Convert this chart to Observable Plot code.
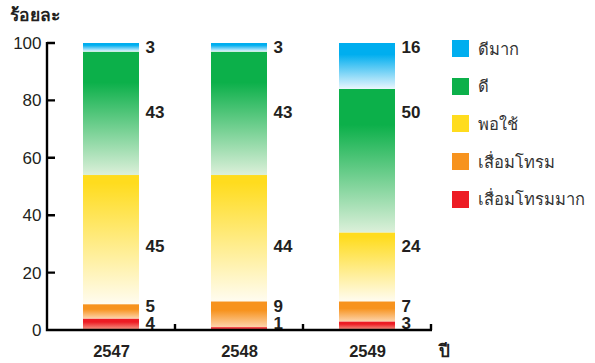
<!DOCTYPE html>
<html>
<head>
<meta charset="utf-8">
<script src="https://cdn.jsdelivr.net/npm/d3@7"></script>
<script src="https://cdn.jsdelivr.net/npm/@observablehq/plot@0.6"></script>
<style>
  html, body { margin: 0; padding: 0; background: #fff; }
  #wrap { position: relative; width: 595px; height: 363px; font-family: "Liberation Sans", Arial, sans-serif; color: #231f20; }
  #wrap svg { position: absolute; left: 0; top: 0; }
  .title { position: absolute; left: 10px; top: 1px; font-size: 17.5px; font-weight: bold; }
  .xname { position: absolute; left: 439px; top: 337px; font-size: 17px; font-weight: bold; }
  .legend { position: absolute; left: 452px; top: 40px; }
  .legend .row { display: flex; align-items: center; height: 17px; margin-bottom: 20.7px; font-size: 16.5px; color: #333; }
  .legend .sw { width: 17px; height: 17px; margin-right: 9px; flex: none; }
</style>
</head>
<body>
<div id="wrap"></div>
<script>
// ---- data ----
const years = ["2547", "2548", "2549"];
const categories = ["เสื่อมโทรมมาก", "เสื่อมโทรม", "พอใช้", "ดี", "ดีมาก"]; // bottom -> top
const values = {
  "เสื่อมโทรมมาก": [4, 1, 3],
  "เสื่อมโทรม":   [5, 9, 7],
  "พอใช้":        [45, 44, 24],
  "ดี":           [43, 43, 50],
  "ดีมาก":        [3, 3, 16]
};
const yTicks = [0, 20, 40, 60, 80, 100];
// y (in percent) where each category's value label sits beside its bar
const labelAt = [2.4, 8.3, 29.2, 75.8, 98.6];

// ---- styles ----
const topColor = ["#ed1c24", "#f7931e", "#ffdc1e", "#0cb04a", "#00aeef"];
const lightColor = ["#f7a08c", "#fdd4ac", "#fffcf0", "#dcf0da", "#e9f6fd"];
const solidStop = [0.3, 0.35, 0.06, 0.25, 0.25];

const rows = [];
categories.forEach((c, ci) => years.forEach((y, yi) =>
  rows.push({year: y, category: c, ci, value: values[c][yi], grad: `url(#grad${ci})`})));

const labelRows = rows.map(d => ({...d, at: labelAt[d.ci]}));

function axesMark(index, scales) {
  const {x, y} = scales;
  const g = d3.create("svg:g").attr("stroke", "#000").attr("fill", "none");
  const y0 = y(0), yTop = y(100);
  const bw = typeof x.bandwidth === "function" ? x.bandwidth() : (x.bandwidth || 0);
  const centers = years.map(v => x(v) + bw / 2); // band centres
  const step = centers[1] - centers[0];
  const bounds = centers.map(c => c - step / 2).concat([centers[centers.length - 1] + step / 2]);
  const left = bounds[0], right = bounds[bounds.length - 1];
  const path = [];
  // y axis line
  path.push(`M${left},${y0 + 1.2}V${yTop - 1}`);
  // y ticks, pointing inward
  yTicks.forEach(t => path.push(`M${left},${y(t)}H${left + 8}`));
  // x baseline
  path.push(`M${left - 1.2},${y0}H${right + 1}`);
  // x ticks at band boundaries, pointing up
  bounds.forEach(b => path.push(`M${b},${y0}V${y0 - 6}`));
  g.append("path").attr("d", path.join("")).attr("stroke-width", 2.4);
  return g.node();
}

const chart = Plot.plot({
  width: 595,
  height: 363,
  marginLeft: 47,
  marginRight: 164,
  marginTop: 43,
  marginBottom: 33,
  style: {fontFamily: "'Liberation Sans', Arial, sans-serif", fontSize: "17px", color: "#231f20"},
  x: {domain: years, paddingInner: 0.5625, paddingOuter: 0.28125, label: null},
  y: {domain: [0, 100], label: null},
  color: {type: "identity"},
  marks: [
    Plot.barY(rows, Plot.stackY({x: "year", y: "value", z: "ci", fill: "grad", order: null})),
    Plot.axisY({ticks: yTicks, tickSize: 0, tickPadding: 6, label: null, fontSize: 17}),
    Plot.axisX({tickSize: 0, tickPadding: 15, label: null, fontSize: 16.5, fontWeight: "bold"}),
    Plot.text(labelRows, {x: "year", y: "at", text: d => String(d.value), dx: 34, textAnchor: "start",
      lineAnchor: "middle", fontSize: 17, fontWeight: "bold", fill: "#231f20"}),
    axesMark
  ]
});

// gradient definitions for the bar fills
const defs = d3.select(chart).insert("defs", ":first-child");
categories.forEach((c, ci) => {
  const g = defs.append("linearGradient").attr("id", `grad${ci}`)
    .attr("x1", 0).attr("x2", 0).attr("y1", 0).attr("y2", 1);
  g.append("stop").attr("offset", 0).attr("stop-color", topColor[ci]);
  g.append("stop").attr("offset", solidStop[ci]).attr("stop-color", topColor[ci]);
  g.append("stop").attr("offset", 1).attr("stop-color", lightColor[ci]);
});

const wrap = document.getElementById("wrap");
wrap.appendChild(chart);

const title = document.createElement("div");
title.className = "title"; title.textContent = "ร้อยละ";
wrap.appendChild(title);

const xname = document.createElement("div");
xname.className = "xname"; xname.textContent = "ปี";
wrap.appendChild(xname);

const legend = document.createElement("div");
legend.className = "legend";
[...categories].reverse().forEach(c => {
  const ci = categories.indexOf(c);
  const row = document.createElement("div"); row.className = "row";
  const sw = document.createElement("div"); sw.className = "sw"; sw.style.background = topColor[ci];
  const t = document.createElement("span"); t.textContent = c;
  row.appendChild(sw); row.appendChild(t);
  legend.appendChild(row);
});
wrap.appendChild(legend);
</script>
</body>
</html>
